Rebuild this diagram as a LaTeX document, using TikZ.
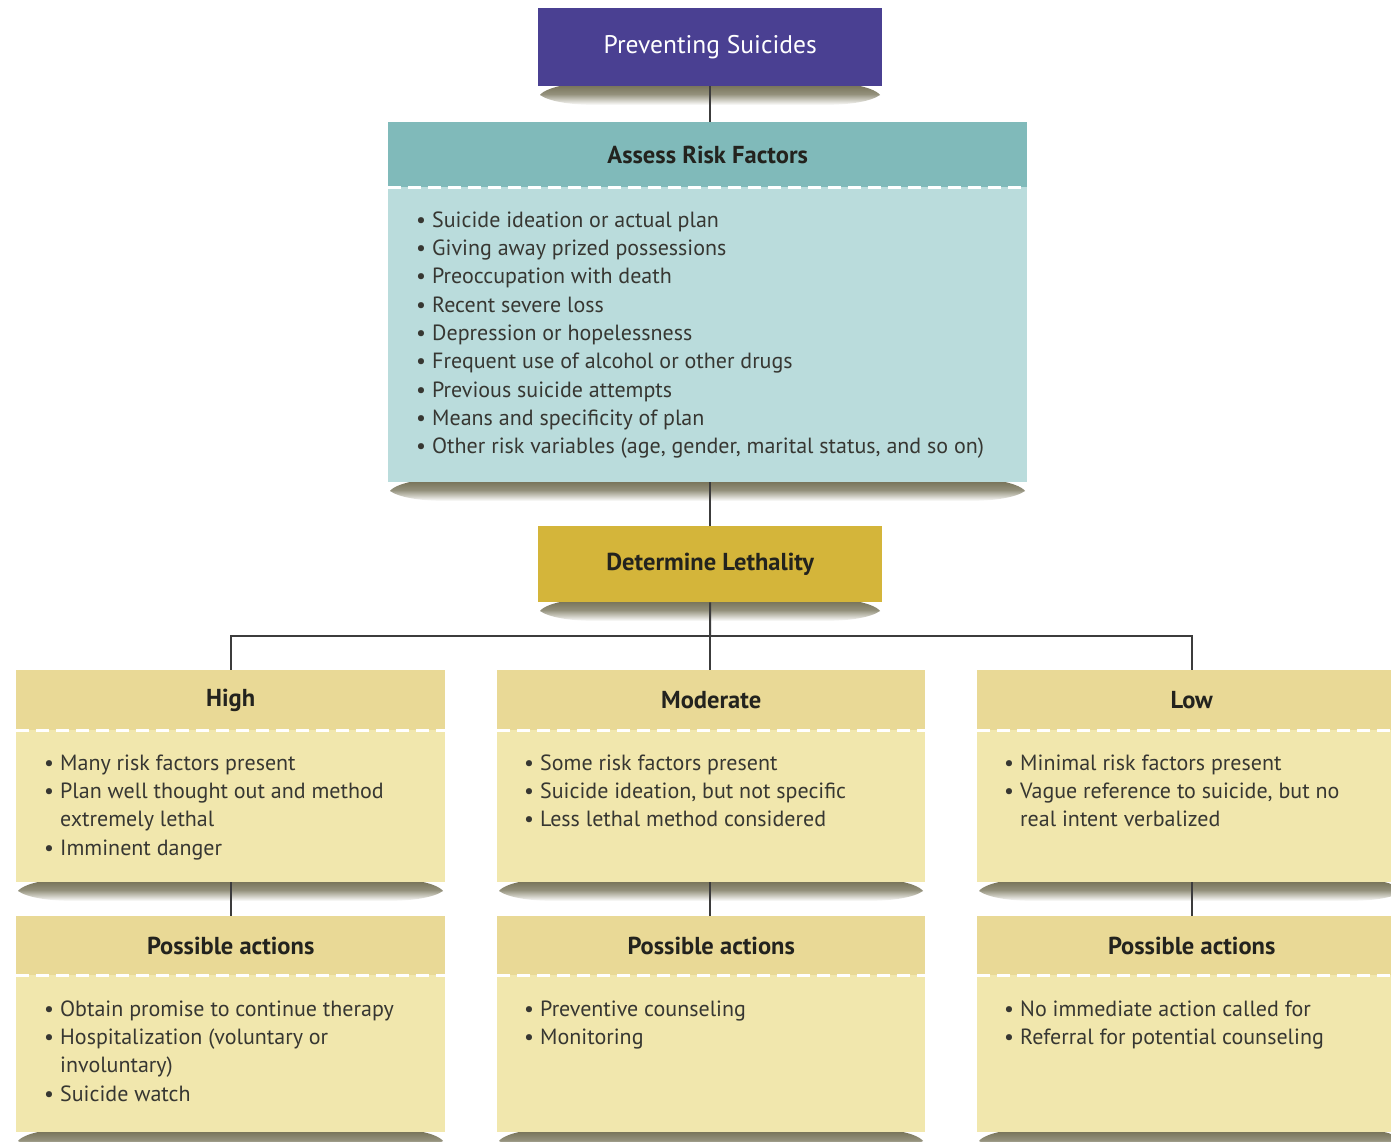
\documentclass[tikz,border=0pt]{standalone}
\usepackage{fontspec}
\setmainfont{PT Sans}
\definecolor{purp}{RGB}{74,64,146}
\definecolor{tealh}{RGB}{128,186,186}
\definecolor{tealb}{RGB}{186,220,220}
\definecolor{gold}{RGB}{212,181,58}
\definecolor{yelh}{RGB}{233,217,150}
\definecolor{yelb}{RGB}{241,231,173}
\definecolor{shadc}{RGB}{112,108,80}
\definecolor{linec}{RGB}{60,60,60}
\definecolor{txt}{RGB}{55,55,50}
\definecolor{htxt}{RGB}{35,35,30}
\newcommand{\bl}{\makebox[16pt][l]{\textbullet}}
\newcommand{\ind}{\hspace*{16pt}}
\newcommand{\shadowunder}[3]{%
  \shade[top color=shadc,bottom color=white,middle color=shadc!75!white]
    (#1+40,#3-3) -- (#2-40,#3-3)
    .. controls (#2-15,#3) and (#2-5,#3+5) .. (#2-2,#3+9)
    .. controls (#2-12,#3+16) and (#2-35,#3+19) .. (#2-60,#3+19)
    -- (#1+60,#3+19)
    .. controls (#1+35,#3+19) and (#1+12,#3+16) .. (#1+2,#3+9)
    .. controls (#1+5,#3+5) and (#1+15,#3) .. (#1+40,#3-3) -- cycle;
}
\begin{document}
\begin{tikzpicture}[x=1pt,y=-1pt,
  rect/.style={rectangle,draw=none,inner sep=0pt,anchor=north west,align=center},
  ttl/.style={font=\fontsize{25.5}{28}\selectfont},
  hdr/.style={font=\fontsize{24.5}{28}\selectfont\bfseries,text=htxt},
  lst/.style={anchor=north west,inner sep=0pt,align=left,text=txt,font=\fontsize{22}{28.3}\selectfont},
  dashline/.style={draw=white,line width=2.5pt,dash pattern=on 13pt off 7pt},
  conn/.style={draw=linec,line width=2pt}]
\useasboundingbox (0,0) rectangle (1391,1142);
\fill[white] (0,0) rectangle (1391,1142);

% shadows
\shadowunder{538}{882}{86}
\shadowunder{388}{1027}{482}
\shadowunder{538}{882}{602}
\shadowunder{16}{445}{882}
\shadowunder{497}{925}{882}
\shadowunder{977}{1406}{882}
\shadowunder{16}{445}{1132}
\shadowunder{497}{925}{1132}
\shadowunder{977}{1406}{1132}

\coordinate (junc) at (710,636);

% top
\node[rect,fill=purp,text=white,ttl,minimum width=344pt,minimum height=78pt] (ps) at (538,8) {Preventing Suicides};

% assess
\node[rect,fill=tealh,hdr,minimum width=639pt,minimum height=65pt] (arh) at (388,122) {\raisebox{-2pt}{Assess Risk Factors}};
\node[rect,fill=tealb,minimum width=639pt,minimum height=295pt] (arb) at (388,187) {};
\draw[dashline] (arh.south west) -- (arh.south east);
\node[lst] (arl) at (416,211.5) {\bl Suicide ideation or actual plan\\
\bl Giving away prized possessions\\
\bl Preoccupation with death\\
\bl Recent severe loss\\
\bl Depression or hopelessness\\
\bl Frequent use of alcohol or other drugs\\
\bl Previous suicide attempts\\
\bl Means and specificity of plan\\
\bl Other risk variables (age, gender, marital status, and so on)};

% determine
\node[rect,fill=gold,hdr,minimum width=344pt,minimum height=76pt] (dl) at (538,526) {Determine Lethality};

% level boxes
\node[rect,fill=yelh,hdr,minimum width=429pt,minimum height=60pt] (hih) at (16,670) {High};
\node[rect,fill=yelb,minimum width=429pt,minimum height=152pt] (hib) at (16,730) {};
\node[rect,fill=yelh,hdr,minimum width=428pt,minimum height=60pt] (moh) at (497,670) {Moderate};
\node[rect,fill=yelb,minimum width=428pt,minimum height=152pt] (mob) at (497,730) {};
\node[rect,fill=yelh,hdr,minimum width=429pt,minimum height=60pt] (loh) at (977,670) {Low};
\node[rect,fill=yelb,minimum width=429pt,minimum height=152pt] (lob) at (977,730) {};
\draw[dashline] (hih.south west) -- (hih.south east);
\draw[dashline] (moh.south west) -- (moh.south east);
\draw[dashline] (loh.south west) -- (loh.south east);

\node[lst] (hil) at (44,754.5) {\bl Many risk factors present\\
\bl Plan well thought out and method\\
\ind extremely lethal\\
\bl Imminent danger};
\node[lst] (mol) at (524,754.5) {\bl Some risk factors present\\
\bl Suicide ideation, but not specific\\
\bl Less lethal method considered};
\node[lst] (lol) at (1004,754.5) {\bl Minimal risk factors present\\
\bl Vague reference to suicide, but no\\
\ind real intent verbalized};

% action boxes
\node[rect,fill=yelh,hdr,minimum width=429pt,minimum height=59pt] (hah) at (16,916) {Possible actions};
\node[rect,fill=yelb,minimum width=429pt,minimum height=157pt] (hab) at (16,975) {};
\node[rect,fill=yelh,hdr,minimum width=428pt,minimum height=59pt] (mah) at (497,916) {Possible actions};
\node[rect,fill=yelb,minimum width=428pt,minimum height=157pt] (mab) at (497,975) {};
\node[rect,fill=yelh,hdr,minimum width=429pt,minimum height=59pt] (lah) at (977,916) {Possible actions};
\node[rect,fill=yelb,minimum width=429pt,minimum height=157pt] (lab) at (977,975) {};
\draw[dashline] (hah.south west) -- (hah.south east);
\draw[dashline] (mah.south west) -- (mah.south east);
\draw[dashline] (lah.south west) -- (lah.south east);

\node[lst] (hal) at (44,1000.5) {\bl Obtain promise to continue therapy\\
\bl Hospitalization (voluntary or\\
\ind involuntary)\\
\bl Suicide watch};
\node[lst] (mal) at (524,1000.5) {\bl Preventive counseling\\
\bl Monitoring};
\node[lst] (lal) at (1004,1000.5) {\bl No immediate action called for\\
\bl Referral for potential counseling};

% connectors
\draw[conn] (ps.south) -- (ps.south |- arh.north);
\draw[conn] (ps.south |- arb.south) -- (dl.north);
\draw[conn] (dl.south) -- (junc);
\draw[conn] (junc) -| (hih.north);
\draw[conn] (junc) -- (junc |- moh.north);
\draw[conn] (junc) -| (loh.north);
\draw[conn] (hib.south) -- (hah.north);
\draw[conn] (mob.south -| junc) -- (mah.north -| junc);
\draw[conn] (lob.south) -- (lah.north);
\end{tikzpicture}
\end{document}
